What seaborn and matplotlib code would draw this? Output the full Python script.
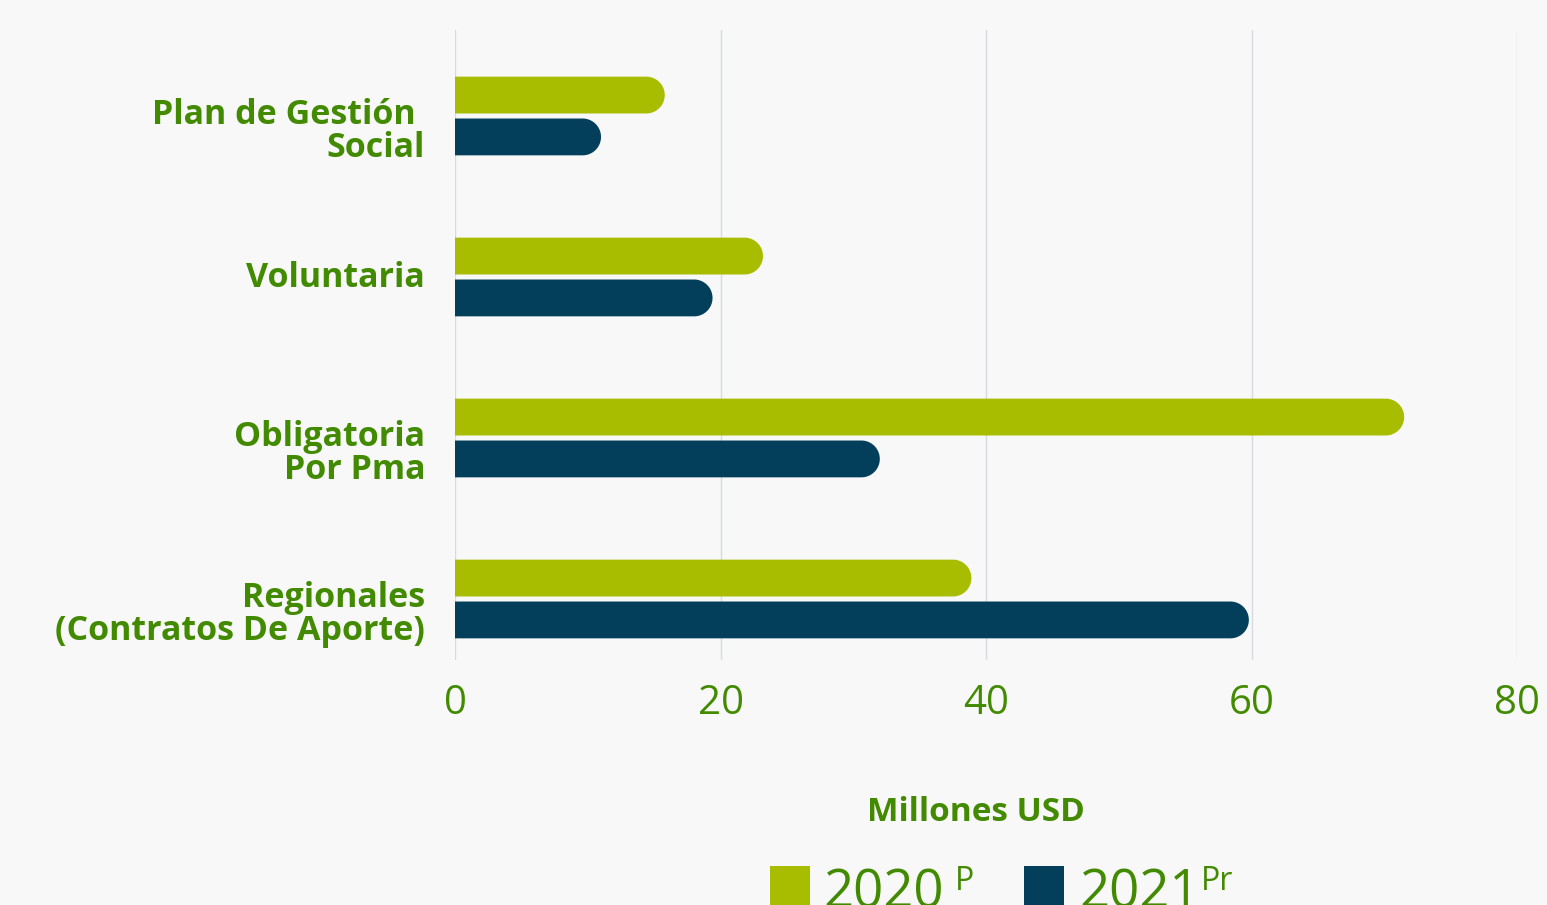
import numpy as np
import pandas as pd
import seaborn as sns
import matplotlib.pyplot as plt
from matplotlib.patches import Polygon, Rectangle
from matplotlib.transforms import ScaledTranslation

# datos
categorias = ['Plan de Gestión \nSocial', 'Voluntaria', 'Obligatoria\nPor Pma', 'Regionales\n(Contratos De Aporte)']
valores_2020 = [15.8, 23.2, 71.5, 38.9]
valores_2021 = [11.0, 19.4, 32.0, 59.8]
series = ['2020', '2021']
ticks_x = [0, 20, 40, 60, 80]

verde_claro = '#A8BC00'
azul = '#033F5A'
verde_texto = '#428A00'
fondo = '#F8F8F8'

df = pd.DataFrame({
    'categoria': categorias * 2,
    'valor': valores_2020 + valores_2021,
    'serie': [series[0]] * 4 + [series[1]] * 4,
})

sns.set_style('white')
plt.rcParams['font.family'] = ['Open Sans', 'DejaVu Sans']

fig = plt.figure(figsize=(15.47, 9.05), dpi=100, facecolor=fondo)
ax = fig.add_axes([455 / 1547, 1 - 660 / 905, (1517 - 455) / 1547, 630 / 905])
ax.set_facecolor(fondo)

sns.barplot(data=df, y='categoria', x='valor', hue='serie', orient='h',
            palette=[verde_claro, azul], width=0.52, gap=0.12,
            saturation=1, legend=False, ax=ax)

ax.set_xlim(0, 80)
ax.set_ylim((660 - 116) / 161, (30 - 116) / 161)

# extremo derecho en semicirculo
px_por_x = (1517 - 455) / 80
t = np.linspace(-np.pi / 2, np.pi / 2, 40)
for p in list(ax.patches):
    w = p.get_width()
    h = p.get_height()
    y = p.get_y()
    r = (h * 161 / 2) / px_por_x
    color = p.get_facecolor()
    p.remove()
    yc = y + h / 2
    arco = np.column_stack([w - r + r * np.cos(t), yc + (h / 2) * np.sin(t)])
    puntos = np.vstack([[[0, y]], arco, [[0, y + h]]])
    ax.add_patch(Polygon(puntos, closed=True, facecolor=color, linewidth=0, zorder=2))

ax.set_xticks(ticks_x)
ax.grid(axis='x', color='#D6DADE', linewidth=1)
ax.set_axisbelow(True)
for s in ax.spines.values():
    s.set_visible(False)
ax.tick_params(axis='x', length=0, pad=17, labelsize=29, labelcolor=verde_texto)
ax.tick_params(axis='y', length=0, pad=21.6, labelcolor=verde_texto)
for lab in ax.get_yticklabels():
    lab.set_fontsize(24.5)
    lab.set_fontweight('bold')
    lab.set_multialignment('right')
    lab.set_linespacing(0.95)
    dy = -12 if '\n' in lab.get_text() else 3
    lab.set_transform(lab.get_transform() + ScaledTranslation(0, dy / 100, fig.dpi_scale_trans))
ax.set_xlabel('')
ax.set_ylabel('')

fig.text(976 / 1547, 1 - 812 / 905, 'Millones USD', ha='center', va='center',
         fontsize=24, fontweight='bold', color=verde_texto)

# leyenda
for x0, color, txt, sup, xt, xs in [(770, verde_claro, '2020', 'P', 823, 955),
                                     (1024, azul, '2021', 'Pr', 1079, 1201)]:
    fig.patches.append(Rectangle((x0 / 1547, 0), 40 / 1547, 39 / 905,
                                 transform=fig.transFigure, facecolor=color, linewidth=0))
    fig.text(xt / 1547, 1 - 907 / 905, txt, ha='left', va='baseline',
             fontsize=38, color=verde_texto)
    fig.text(xs / 1547, 1 - 890 / 905, sup, ha='left', va='baseline',
             fontsize=23, color=verde_texto)

fig.savefig('out.png', dpi=100, facecolor=fondo)
